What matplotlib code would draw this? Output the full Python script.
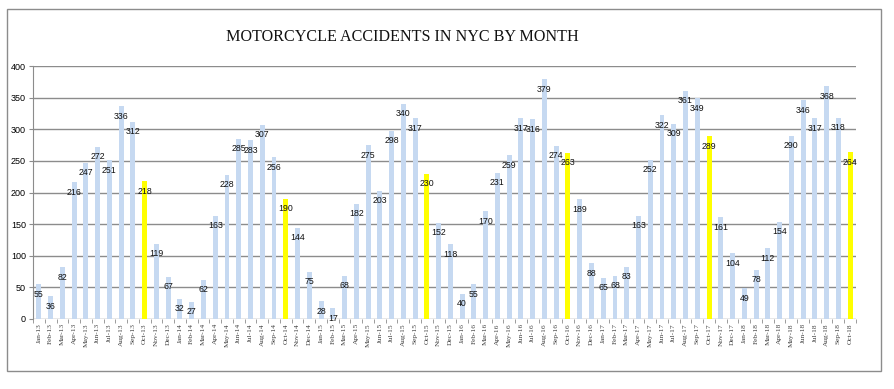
import matplotlib
matplotlib.use("Agg")
import matplotlib.pyplot as plt
from matplotlib.patches import Rectangle
import numpy as np

months = ["Jan", "Feb", "Mar", "Apr", "May", "Jun", "Jul", "Aug", "Sep", "Oct", "Nov", "Dec"]
years = ["13", "14", "15", "16", "17", "18"]
labels = [f"{m}-{y}" for y in years for m in months][:70]

values = [
    55, 36, 82, 216, 247, 272, 251, 336, 312, 218, 119, 67,
    32, 27, 62, 163, 228, 285, 283, 307, 256, 190, 144, 75,
    28, 17, 68, 182, 275, 203, 298, 340, 317, 230, 152, 118,
    40, 55, 170, 231, 259, 317, 316, 379, 274, 263, 189, 88,
    65, 68, 83, 163, 252, 322, 309, 361, 349, 289, 161, 104,
    49, 78, 112, 154, 290, 346, 317, 368, 318, 264,
]
highlight = [lab.startswith("Oct") for lab in labels]
title = "MOTORCYCLE ACCIDENTS IN NYC BY MONTH"

W, H = 894, 389
fig = plt.figure(figsize=(W / 100, H / 100), dpi=100)
fig.patch.set_facecolor("white")

# outer border
fig.patches.append(Rectangle((7 / W, 1 - 371 / H), (881 - 7) / W, (371 - 9) / H,
                             transform=fig.transFigure, fill=False,
                             edgecolor="#8c8c8c", linewidth=1.0))

ax = fig.add_axes([33 / W, 1 - 319 / H, (856 - 33) / W, (319 - 66) / H])
x = np.arange(len(values))
colors = ["#ffff00" if h else "#c6d9f1" for h in highlight]
ax.bar(x, values, width=0.42, color=colors, zorder=3)

ax.set_xlim(-0.5, len(values) - 0.5)
ax.set_ylim(0, 400)
ax.set_yticks(range(0, 401, 50))
ax.yaxis.grid(True, color="#8c8c8c", linewidth=1.0, zorder=0)
ax.set_axisbelow(True)

for s in ["top", "right", "bottom"]:
    ax.spines[s].set_visible(False)
ax.spines["left"].set_color("#8c8c8c")

ax.tick_params(axis="y", length=3, color="#8c8c8c", labelsize=6.5, pad=2)
for t in ax.get_yticklabels():
    t.set_family("Liberation Sans")

ax.set_xticks(x)
ax.set_xticklabels(labels, rotation=90, fontsize=5.3, family="Liberation Serif", color="#404040")
ax.tick_params(axis="x", length=0, pad=3)
ax.set_xticks(np.arange(-0.5, len(values), 1), minor=True)
ax.tick_params(axis="x", which="minor", length=3, color="#8c8c8c")

for xi, v in zip(x, values):
    ax.annotate(str(v), (xi, v), xytext=(0, -10), textcoords="offset pixels",
                ha="center", va="center", fontsize=6.3, family="Liberation Sans",
                color="#111111", zorder=4)

fig.text(402 / W, 1 - 37 / H, title, ha="center", va="center",
         fontsize=11.6, family="Liberation Serif", color="#111111")

fig.savefig("out.png", dpi=100)
